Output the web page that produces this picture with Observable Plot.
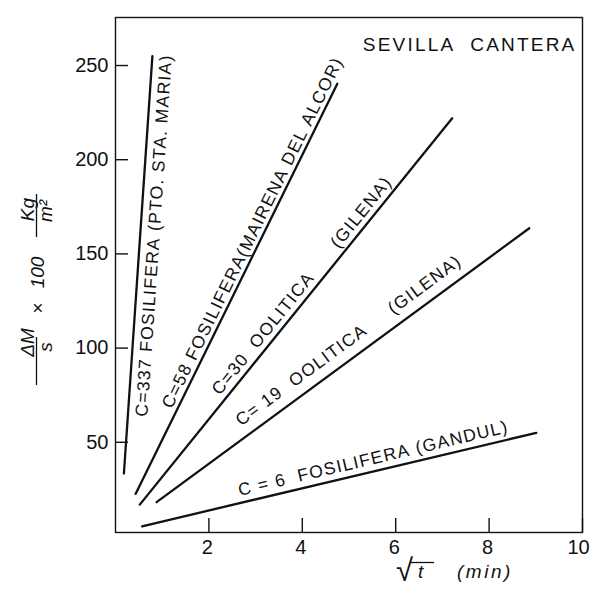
<!DOCTYPE html>
<html><head><meta charset="utf-8">
<script src="https://cdn.jsdelivr.net/npm/d3@7"></script>
<script src="https://cdn.jsdelivr.net/npm/@observablehq/plot@0.6"></script>
<style>body{margin:0;background:#fff}#chart svg{display:block}</style>
</head><body><div id="chart"></div>
<script>
// ---- data ----
const series = ["C=337", "C=58", "C=30", "C=19", "C=6"];
const startX = [0.18, 0.43, 0.52, 0.88, 0.57];
const startY = [33.4, 22.6, 16.9, 18.2, 5.4];
const endX = [0.79, 4.75, 7.21, 8.86, 9.01];
const endY = [255, 240.3, 222, 163.6, 55];
const labels = [
  "C=337 FOSILIFERA (PTO. STA. MARIA)",
  "C=58 FOSILIFERA(MAIRENA DEL ALCOR)",
  "C=30  OOLITICA      (GILENA)",
  "C= 19  OOLITICA     (GILENA)",
  "C = 6  FOSILIFERA (GANDUL)"
];
const labelX = [0.825, 2.935, 3.99, 4.99, 5.52];
const labelY = [159.8, 161.3, 133.2, 104, 41.4];
const xTicks = [2, 4, 6, 8, 10];
const yTicks = [50, 100, 150, 200, 250];
const title = "SEVILLA  CANTERA";

// ---- layout ----
const W = 590, H = 589;
const mL = 115, mR = 8, mT = 17, mB = 57;
const plotW = W - mL - mR, plotH = H - mT - mB;
const font = "'Liberation Sans', Arial, sans-serif";
const ink = "#111";

const rows = [];
series.forEach((s, i) => {
  rows.push({s, x: startX[i], y: startY[i]});
  rows.push({s, x: endX[i], y: endY[i]});
});

const base = {
  width: W, height: H,
  marginLeft: mL, marginRight: mR, marginTop: mT, marginBottom: mB,
  x: {domain: [0, 10]},
  y: {domain: [2.1, 275.5]},
  style: {fontFamily: font, fontSize: "20px", color: ink, background: "#fff"}
};

// probe to get the scales for the rotation of line labels
const probe = Plot.plot({...base, marks: [Plot.line(rows, {x: "x", y: "y", z: "s"})]});
const sx = probe.scale("x"), sy = probe.scale("y");
const labelRows = series.map((s, i) => ({
  text: labels[i].replace(/ /g, "\u00A0"),
  x: labelX[i], y: labelY[i],
  angle: Math.atan2(sy.apply(endY[i]) - sy.apply(startY[i]), sx.apply(endX[i]) - sx.apply(startX[i])) * 180 / Math.PI
}));

const chart = Plot.plot({
  ...base,
  marks: [
    Plot.frame({stroke: ink, strokeWidth: 1.4}),
    Plot.tickY(yTicks, {y: d => d, insetRight: plotW - 13, stroke: ink, strokeWidth: 1.4}),
    Plot.tickX(xTicks, {x: d => d, insetTop: plotH - 14, stroke: ink, strokeWidth: 1.4}),
    Plot.axisY({ticks: yTicks, tickSize: 0, tickPadding: 7, fontSize: 20, label: null}),
    Plot.axisX({ticks: xTicks.slice(0, -1), tickSize: 0, tickPadding: 7, fontSize: 20, dx: -1.5, label: null}),
    Plot.axisX({ticks: xTicks.slice(-1), tickSize: 0, tickPadding: 7, fontSize: 20, dx: -4, label: null}),
    Plot.line(rows, {x: "x", y: "y", z: "s", stroke: ink, strokeWidth: 2.3}),
    Plot.text(labelRows, {x: "x", y: "y", text: "text", rotate: "angle", fontSize: 17.5, fill: ink, textAnchor: "middle", lineAnchor: "middle", className: "linelab"}),
    Plot.text([title], {frameAnchor: "top-right", text: d => d.replace(/ /g, "\u00A0"), dx: -6, dy: 20, fontSize: 19, fill: ink, textAnchor: "end", className: "ttl"})
  ]
});

document.getElementById("chart").appendChild(chart);
const svg = d3.select(chart);
svg.selectAll(".linelab text").style("letter-spacing", "1.3px");
svg.selectAll(".ttl text").style("letter-spacing", "2.2px");

// ---- axis titles ----
const g = svg.append("g").attr("fill", ink).attr("text-anchor", "start")
  .style("font-family", font).style("font-size", "19px");
const yParts = [
  {t: "ΔM", x: 27.5, y: 342.5, it: true},
  {t: "s", x: 45, y: 347, it: true},
  {t: "×", x: 37, y: 308, it: false},
  {t: "100", x: 37, y: 272.5, it: true},
  {t: "Kg", x: 27.5, y: 209.5, it: true},
  {t: "m²", x: 45, y: 211, it: true}
];
yParts.forEach(p => {
  g.append("text").text(p.t)
    .attr("transform", `translate(${p.x},${p.y}) rotate(-90)`)
    .attr("text-anchor", "middle").attr("dominant-baseline", "central")
    .style("font-style", p.it ? "italic" : "normal");
});
[[337, 385], [194, 237]].forEach(([a, b]) => {
  g.append("line").attr("x1", 36.5).attr("x2", 36.5).attr("y1", a).attr("y2", b)
    .attr("stroke", ink).attr("stroke-width", 1.3);
});
g.append("text").text("√").attr("x", 396).attr("y", 581).style("font-size", "31px");
g.append("text").text("t").attr("x", 418).attr("y", 578).style("font-style", "italic");
g.append("line").attr("x1", 410).attr("x2", 434).attr("y1", 562.5).attr("y2", 562.5).attr("stroke", ink).attr("stroke-width", 1.3);
g.append("text").text("(min)").attr("x", 457).attr("y", 578).style("font-style", "italic").style("letter-spacing", "2.5px");
</script>
</body></html>
